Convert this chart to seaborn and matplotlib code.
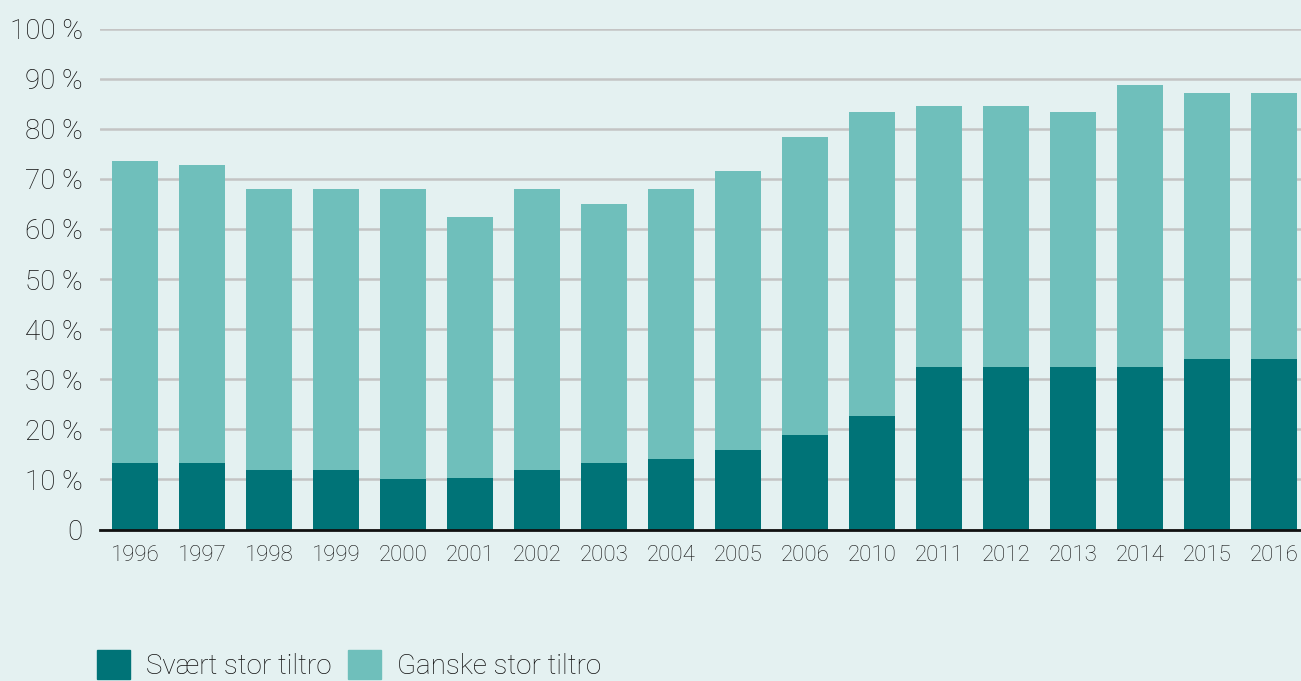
import matplotlib
matplotlib.use("Agg")
import matplotlib.pyplot as plt
import matplotlib.patches as mpatches
import pandas as pd
import seaborn as sns

years = ["1996", "1997", "1998", "1999", "2000", "2001", "2002", "2003", "2004",
         "2005", "2006", "2010", "2011", "2012", "2013", "2014", "2015", "2016"]
svaert_stor = [13.2, 13.2, 11.9, 11.9, 10.0, 10.3, 11.9, 13.2, 14.0,
               15.8, 18.8, 22.6, 32.5, 32.5, 32.5, 32.5, 34.1, 34.1]
ganske_stor = [60.3, 59.5, 56.0, 56.0, 57.9, 52.0, 56.0, 51.8, 53.9,
               55.7, 59.6, 60.8, 52.1, 52.1, 50.9, 56.3, 53.1, 53.1]
y_ticks = [0, 10, 20, 30, 40, 50, 60, 70, 80, 90, 100]

bg = "#e4f1f1"
dark = "#007377"
light = "#6fbfbb"
txt = "#111111"

df = pd.DataFrame({"year": years, "svaert": svaert_stor, "ganske": ganske_stor})
df["total"] = df["svaert"] + df["ganske"]

sns.set_theme(style="white")
plt.rcParams["font.family"] = ["Roboto", "DejaVu Sans"]
plt.rcParams["font.weight"] = "light"

fig = plt.figure(figsize=(13.01, 6.81), dpi=100, facecolor=bg)
ax = fig.add_axes([99.5 / 1301, (681 - 529.6) / 681, 1 - 99.5 / 1301, (529.6 - 28.5) / 681])
ax.set_facecolor(bg)

sns.barplot(data=df, x="year", y="total", order=years, color=light, width=0.687,
            saturation=1, linewidth=0, ax=ax, zorder=3)
sns.barplot(data=df, x="year", y="svaert", order=years, color=dark, width=0.687,
            saturation=1, linewidth=0, ax=ax, zorder=4)

ax.set_xlim(-0.533, 17.40)
ax.set_ylim(0, 100)
ax.set_yticks(y_ticks)
ax.set_yticklabels(["0" if t == 0 else f"{t} %" for t in y_ticks])
ax.yaxis.grid(True, color="#c4c4c4", linewidth=1.8, zorder=0)
ax.set_axisbelow(True)
ax.set_xlabel("")
ax.set_ylabel("")

for s in ["top", "right", "left"]:
    ax.spines[s].set_visible(False)
ax.spines["bottom"].set_color("#111111")
ax.spines["bottom"].set_linewidth(2)
ax.spines["bottom"].set_zorder(6)

ax.tick_params(axis="y", length=0, pad=12, labelsize=20, labelcolor=txt)
ax.tick_params(axis="x", length=0, pad=11, labelsize=16, labelcolor=txt)

handles = [mpatches.Patch(color=dark, label="Svært stor tiltro"),
           mpatches.Patch(color=light, label="Ganske stor tiltro")]
fig.legend(handles=handles, loc="lower left", bbox_to_anchor=(72 / 1301, -0.035),
           ncol=2, frameon=False, fontsize=20, handlelength=1.2, handleheight=1.2,
           handletextpad=0.55, columnspacing=0.6, labelcolor=txt)

fig.savefig("out.png", dpi=100, facecolor=bg)
